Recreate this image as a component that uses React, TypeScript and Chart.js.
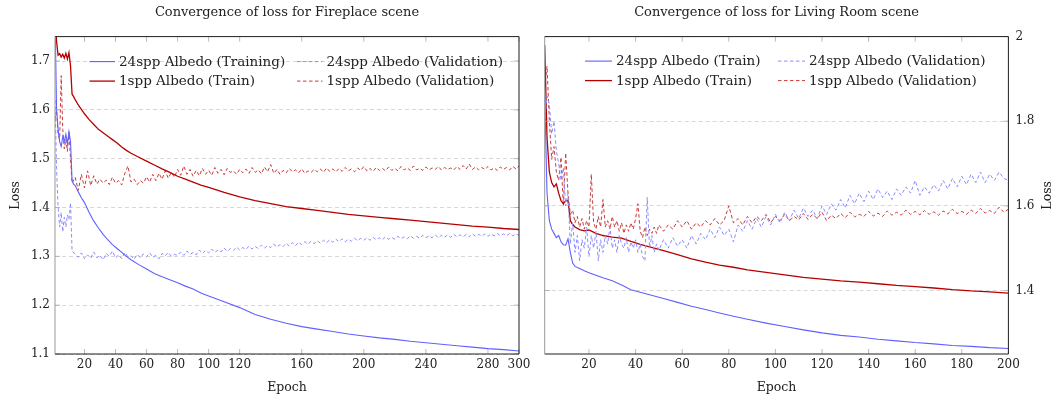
import React, { useEffect, useRef } from 'react';
import { Chart, registerables } from 'chart.js';
Chart.register(...registerables);

const FONT = "'DejaVu Serif', serif";
const TEXT = '#222222';

// ---------------- Fireplace scene ----------------
const fpTitle = 'Convergence of loss for Fireplace scene';
const fpXTicks = [20, 40, 60, 80, 100, 120, 160, 200, 240, 280, 300];
const fpYTicks = [1.1, 1.2, 1.3, 1.4, 1.5, 1.6, 1.7];
const fpLabels = ['24spp Albedo (Training)', '24spp Albedo (Validation)', '1spp Albedo (Train)', '1spp Albedo (Validation)'];

const fpTrainEpochs = [1, 2, 3, 4, 5, 6, 7, 8, 9, 10, 11, 12, 13, 14, 16, 18, 20, 23, 26, 29, 32, 35, 38, 41, 44, 47, 50,
  55, 60, 65, 70, 75, 80, 85, 90, 95, 100, 110, 120, 130, 140, 150, 160, 170, 180, 190, 200, 210, 220, 230, 240, 250,
  260, 270, 280, 290, 300];
const fp24Train = [1.80, 1.60, 1.56, 1.535, 1.525, 1.545, 1.535, 1.55, 1.53, 1.555, 1.535, 1.455, 1.448, 1.445,
  1.432, 1.420, 1.410,
  1.390, 1.372, 1.358, 1.345, 1.334, 1.324, 1.316, 1.308, 1.300, 1.293,
  1.283, 1.274, 1.265, 1.258, 1.252, 1.246, 1.239, 1.233, 1.225, 1.219,
  1.207, 1.195, 1.181, 1.171, 1.163, 1.156, 1.151, 1.146, 1.141, 1.137, 1.133, 1.130, 1.126, 1.123, 1.120, 1.117,
  1.114, 1.111, 1.109, 1.106];
const fp1Train = [1.80, 1.74, 1.712, 1.715, 1.708, 1.714, 1.706, 1.716, 1.704, 1.717, 1.69, 1.632, 1.627, 1.621,
  1.610, 1.601, 1.592,
  1.580, 1.570, 1.560, 1.553, 1.546, 1.539, 1.532, 1.524, 1.517, 1.511,
  1.503, 1.495, 1.487, 1.479, 1.472, 1.464, 1.458, 1.452, 1.446, 1.441,
  1.431, 1.422, 1.414, 1.408, 1.402, 1.398, 1.394, 1.390, 1.386, 1.383, 1.380, 1.377, 1.374, 1.371, 1.368, 1.365,
  1.362, 1.360, 1.357, 1.355];

const range = (a: number, b: number, s = 1) => { const r: number[] = []; for (let v = a; v <= b; v += s) r.push(v); return r; };
const fpValEpochs = range(1, 12).concat(range(14, 300, 2));
const fp24Val = [1.62, 1.48, 1.40, 1.36, 1.39, 1.35, 1.38, 1.36, 1.385, 1.375, 1.41, 1.31,
  1.305, 1.298, 1.307, 1.295, 1.303, 1.296, 1.309, 1.297, 1.302, 1.293, 1.306, 1.300, 1.311, 1.297, 1.303, 1.295, 1.308,
  1.299, 1.301, 1.294, 1.304, 1.297, 1.305, 1.299, 1.307, 1.298, 1.302, 1.295, 1.306, 1.301, 1.308, 1.300, 1.304, 1.302,
  1.309, 1.302, 1.311, 1.304, 1.308, 1.303, 1.313, 1.306, 1.312, 1.307, 1.315, 1.308, 1.313, 1.309, 1.317, 1.310, 1.316,
  1.312, 1.319, 1.313, 1.318, 1.314, 1.321, 1.315, 1.320, 1.316, 1.323, 1.317, 1.322, 1.318, 1.325, 1.319, 1.324, 1.320, 1.327,
  1.321, 1.328, 1.322, 1.329, 1.324, 1.330, 1.325, 1.331, 1.326, 1.332, 1.327, 1.333, 1.328, 1.334, 1.329, 1.335, 1.330,
  1.336, 1.330, 1.335, 1.331, 1.337, 1.332, 1.337, 1.333, 1.338, 1.333, 1.339, 1.334, 1.338, 1.334, 1.340, 1.335, 1.339, 1.335,
  1.341, 1.336, 1.340, 1.336, 1.342, 1.337, 1.341, 1.337, 1.343, 1.338, 1.342, 1.338, 1.344, 1.338, 1.343, 1.339, 1.344,
  1.339, 1.345, 1.340, 1.344, 1.340, 1.345, 1.340, 1.346, 1.341, 1.345, 1.341, 1.346, 1.341, 1.346, 1.342, 1.347, 1.342,
  1.346, 1.342, 1.347, 1.342, 1.346, 1.343];
const fp1Val = [1.58, 1.60, 1.55, 1.54, 1.67, 1.56, 1.52, 1.54, 1.515, 1.555, 1.50, 1.45,
  1.462, 1.435, 1.468, 1.440, 1.475, 1.445, 1.465, 1.448, 1.458, 1.450, 1.456, 1.447, 1.462, 1.450, 1.455, 1.446, 1.470,
  1.485, 1.452, 1.458, 1.447, 1.455, 1.450, 1.463, 1.452, 1.468, 1.455, 1.470, 1.458, 1.475, 1.460, 1.472, 1.462, 1.478,
  1.466, 1.485, 1.468, 1.478, 1.464, 1.476, 1.465, 1.480, 1.468, 1.476, 1.466, 1.482, 1.470, 1.478, 1.467, 1.480, 1.472,
  1.475, 1.468, 1.478, 1.471, 1.479, 1.470, 1.482, 1.472, 1.477, 1.469, 1.483, 1.473, 1.488, 1.470, 1.478, 1.468, 1.476, 1.471,
  1.480, 1.473, 1.477, 1.471, 1.479, 1.470, 1.475, 1.472, 1.478, 1.473, 1.479, 1.472, 1.481, 1.474, 1.479, 1.473, 1.480,
  1.474, 1.482, 1.475, 1.479, 1.473, 1.481, 1.476, 1.484, 1.475, 1.480, 1.474, 1.482, 1.476, 1.480, 1.475, 1.483, 1.476, 1.480,
  1.475, 1.484, 1.477, 1.481, 1.476, 1.485, 1.477, 1.480, 1.476, 1.483, 1.477, 1.481, 1.478, 1.484, 1.477, 1.482, 1.478,
  1.481, 1.477, 1.484, 1.478, 1.486, 1.479, 1.489, 1.478, 1.483, 1.477, 1.482, 1.478, 1.484, 1.477, 1.481, 1.476, 1.483,
  1.478, 1.482, 1.477, 1.484, 1.479, 1.485];

// ---------------- Living Room scene ----------------
const lrTitle = 'Convergence of loss for Living Room scene';
const lrXTicks = [20, 40, 60, 80, 100, 120, 140, 160, 180, 200];
const lrYTicks = [1.4, 1.6, 1.8, 2.0];
const lrYTickLabels = ['1.4', '1.6', '1.8', '2'];
const lrLabels = ['24spp Albedo (Train)', '24spp Albedo (Validation)', '1spp Albedo (Train)', '1spp Albedo (Validation)'];

const lrTrainEpochs = [1, 2, 3, 4, 5, 6, 7, 8, 9, 10, 11, 12, 13, 14, 16, 18, 20, 23, 26, 30, 34, 38, 42, 46,
  52, 58, 64, 70, 76, 82, 88, 96, 104, 112, 120, 128, 136, 144, 152, 160, 168, 176, 184, 192, 200];
const lr24Train = [1.86, 1.63, 1.565, 1.545, 1.535, 1.525, 1.53, 1.515, 1.508, 1.507, 1.522, 1.49, 1.465, 1.457,
  1.452, 1.447, 1.442, 1.436, 1.430, 1.423, 1.413, 1.402, 1.396, 1.390,
  1.381, 1.372, 1.363, 1.355, 1.347, 1.339, 1.332,
  1.323, 1.315, 1.307, 1.300, 1.294, 1.290, 1.285, 1.281, 1.277, 1.274, 1.270, 1.268, 1.265, 1.263];
const lr1Train = [1.98, 1.76, 1.68, 1.655, 1.645, 1.652, 1.63, 1.612, 1.605, 1.612, 1.613, 1.565, 1.556, 1.550,
  1.544, 1.541, 1.543, 1.535, 1.530, 1.526, 1.524, 1.516, 1.509, 1.503,
  1.494, 1.485, 1.475, 1.467, 1.460, 1.455, 1.449,
  1.443, 1.437, 1.431, 1.427, 1.423, 1.420, 1.416, 1.412, 1.409, 1.406, 1.402, 1.399, 1.397, 1.394];

const lrValEpochs = range(1, 50).concat(range(52, 200, 2));
const lr24Val = [1.80, 1.86, 1.84, 1.77, 1.80, 1.73, 1.70, 1.66, 1.69, 1.60, 1.63, 1.51, 1.56, 1.49, 1.53,
  1.47, 1.52, 1.50, 1.55, 1.48, 1.53, 1.50, 1.54, 1.47, 1.52, 1.49, 1.53, 1.51, 1.55, 1.50,
  1.52, 1.49, 1.53, 1.51, 1.50, 1.525, 1.49, 1.515, 1.50, 1.52, 1.49, 1.51, 1.48, 1.47, 1.62,
  1.50, 1.53, 1.49, 1.51, 1.495,
  1.52, 1.50, 1.525, 1.505, 1.52, 1.50, 1.53, 1.51, 1.535, 1.52,
  1.545, 1.525, 1.55, 1.53, 1.545, 1.515, 1.555, 1.54, 1.565, 1.545,
  1.57, 1.55, 1.575, 1.555, 1.58, 1.56, 1.585, 1.565, 1.59, 1.57,
  1.595, 1.575, 1.59, 1.57, 1.60, 1.58, 1.605, 1.59, 1.615, 1.595,
  1.625, 1.605, 1.63, 1.61, 1.635, 1.615, 1.64, 1.62, 1.635, 1.615,
  1.64, 1.625, 1.645, 1.63, 1.66, 1.625, 1.645, 1.63, 1.65, 1.635,
  1.66, 1.64, 1.665, 1.645, 1.67, 1.65, 1.675, 1.655, 1.68, 1.655,
  1.675, 1.66, 1.68, 1.665, 1.66];
const lr1Val = [1.88, 1.93, 1.80, 1.71, 1.74, 1.68, 1.66, 1.715, 1.60, 1.725, 1.63, 1.58, 1.59, 1.56, 1.575,
  1.55, 1.57, 1.545, 1.565, 1.55, 1.675, 1.56, 1.545, 1.575, 1.55, 1.615, 1.55, 1.565, 1.545, 1.575,
  1.55, 1.565, 1.54, 1.56, 1.535, 1.555, 1.54, 1.56, 1.545, 1.57, 1.605, 1.54, 1.525, 1.55, 1.53,
  1.545, 1.535, 1.55, 1.535, 1.555,
  1.54, 1.555, 1.545, 1.565, 1.55, 1.565, 1.545, 1.56, 1.55, 1.565,
  1.555, 1.57, 1.555, 1.565, 1.60, 1.56, 1.57, 1.555, 1.575, 1.56,
  1.575, 1.565, 1.58, 1.56, 1.575, 1.565, 1.58, 1.565, 1.575, 1.567,
  1.582, 1.568, 1.58, 1.57, 1.585, 1.565, 1.578, 1.57, 1.582, 1.572,
  1.585, 1.574, 1.58, 1.575, 1.587, 1.576, 1.583, 1.575, 1.588, 1.578,
  1.585, 1.578, 1.59, 1.58, 1.587, 1.579, 1.589, 1.58, 1.586, 1.578,
  1.588, 1.581, 1.592, 1.582, 1.587, 1.58, 1.59, 1.582, 1.594, 1.583,
  1.589, 1.582, 1.597, 1.585, 1.592];

// ---------------- styles ----------------
const BLUE = 'rgb(96,96,255)';
const BLUE_L = 'rgb(140,140,255)';
const RED = 'rgb(182,0,0)';
const RED_L = 'rgb(200,60,60)';
const VAL_DASH = [3.5, 2.5];

const pts = (xs: number[], ys: number[]) => xs.map((x, i) => ({ x, y: ys[i] }));

const pgfPlugin = {
  id: 'pgf',
  afterDatasetsDraw(chart: any, _args: any, opts: any) {
    const { ctx, chartArea: a } = chart;
    const xs = chart.scales.x;
    const ys = chart.scales.y;
    ctx.save();
    ctx.setLineDash([]);
    // inward tick marks
    ctx.lineWidth = 0.8;
    ctx.strokeStyle = '#a8a8a8';
    const tl = 5;
    ctx.beginPath();
    xs.ticks.forEach((t: any) => {
      const p = xs.getPixelForValue(t.value);
      ctx.moveTo(p, a.bottom); ctx.lineTo(p, a.bottom - tl);
      ctx.moveTo(p, a.top); ctx.lineTo(p, a.top + tl);
    });
    ys.ticks.forEach((t: any) => {
      const p = ys.getPixelForValue(t.value);
      ctx.moveTo(a.left, p); ctx.lineTo(a.left + tl, p);
      ctx.moveTo(a.right, p); ctx.lineTo(a.right - tl, p);
    });
    ctx.stroke();
    // frame
    ctx.lineWidth = 1;
    ctx.strokeStyle = '#1e1e1e';
    ctx.beginPath();
    ctx.moveTo(a.left, a.top); ctx.lineTo(a.right, a.top); ctx.lineTo(a.right, a.bottom); ctx.lineTo(a.left, a.bottom);
    ctx.stroke();
    ctx.strokeStyle = '#999999';
    ctx.beginPath(); ctx.moveTo(a.left, a.top); ctx.lineTo(a.left, a.bottom); ctx.stroke();

    // legend (two columns, two rows)
    const ds = chart.data.datasets;
    ctx.font = `${opts.legendSize}px ${FONT}`;
    ctx.textBaseline = 'middle';
    ctx.textAlign = 'left';
    ds.forEach((d: any, i: number) => {
      const col = i % 2;
      const row = Math.floor(i / 2);
      const x0 = a.left + opts.legendCols[col];
      const y0 = a.top + opts.legendRows[row];
      ctx.strokeStyle = d.borderColor;
      ctx.lineWidth = d.borderWidth;
      ctx.setLineDash(d.borderDash || []);
      ctx.beginPath(); ctx.moveTo(x0, y0); ctx.lineTo(x0 + opts.sampleLen, y0); ctx.stroke();
      ctx.setLineDash([]);
      ctx.fillStyle = TEXT;
      ctx.fillText(d.label, x0 + opts.sampleLen + opts.textGap, y0 + 0.5);
    });

    // rotated axis label on the right side
    if (opts.sideLabel) {
      ctx.save();
      ctx.font = `${opts.sideSize}px ${FONT}`;
      ctx.fillStyle = TEXT;
      ctx.textAlign = 'center';
      ctx.textBaseline = 'middle';
      ctx.translate(ys.right - opts.sideInset, (a.top + a.bottom) / 2);
      ctx.rotate(-Math.PI / 2);
      ctx.fillText(opts.sideLabel, 0, 0);
      ctx.restore();
    }
    ctx.restore();
  },
};

function makeConfig(p: any): any {
  const tickFont = { family: FONT, size: 12 };
  const titleFont = { family: FONT, size: 12.5 };
  return {
    type: 'line',
    data: {
      datasets: [
        { label: p.labels[0], data: pts(p.trainX, p.t24), borderColor: BLUE, borderWidth: 1.1 },
        { label: p.labels[1], data: pts(p.valX, p.v24), borderColor: BLUE_L, borderWidth: 1, borderDash: VAL_DASH },
        { label: p.labels[2], data: pts(p.trainX, p.t1), borderColor: RED, borderWidth: 1.3 },
        { label: p.labels[3], data: pts(p.valX, p.v1), borderColor: RED_L, borderWidth: 1, borderDash: VAL_DASH },
      ].map((d) => ({ ...d, pointRadius: 0, fill: false, tension: 0 })),
    },
    plugins: [pgfPlugin],
    options: {
      responsive: false,
      maintainAspectRatio: false,
      animation: false,
      events: [],
      devicePixelRatio: 1,
      layout: { padding: p.padding },
      plugins: {
        legend: { display: false },
        tooltip: { enabled: false },
        title: {
          display: true, text: p.title, fullSize: false, color: TEXT,
          font: { family: FONT, size: 13, weight: 'normal' }, padding: { top: 5, bottom: 16 },
        },
        pgf: p.pgf,
      },
      scales: {
        x: {
          type: 'linear', min: p.xMin, max: p.xMax,
          afterBuildTicks: (s: any) => { s.ticks = p.xTicks.map((v: number) => ({ value: v })); },
          afterFit: (s: any) => { s.height = 44; s.paddingLeft = 0; s.paddingRight = 0; },
          grid: { display: false, drawTicks: false },
          border: { display: false },
          ticks: { font: tickFont, color: TEXT, padding: 4, maxRotation: 0, autoSkip: false, callback: (v: any) => String(v) },
          title: { display: true, text: 'Epoch', font: titleFont, color: TEXT, padding: { top: 0, bottom: 2.5 } },
        },
        y: {
          type: 'linear', position: p.yPos, min: p.yMin, max: p.yMax,
          afterBuildTicks: (s: any) => { s.ticks = p.yTicks.map((v: number) => ({ value: v })); },
          afterFit: (s: any) => { s.width = p.yWidth; s.paddingTop = 0; s.paddingBottom = 0; },
          grid: { color: '#cdcdcd', lineWidth: 0.8, drawTicks: false },
          border: { display: false, dash: [4, 3] },
          ticks: { font: tickFont, color: TEXT, padding: p.yPad, autoSkip: false, callback: p.yFmt },
          title: p.yTitle,
        },
      },
    },
  };
}

const fireplaceConfig = () => makeConfig({
  title: fpTitle, labels: fpLabels,
  trainX: fpTrainEpochs, valX: fpValEpochs, t24: fp24Train, v24: fp24Val, t1: fp1Train, v1: fp1Val,
  xMin: 1, xMax: 300, xTicks: fpXTicks, yMin: 1.1, yMax: 1.75, yTicks: fpYTicks,
  yPos: 'left', yWidth: 55, yPad: 5,
  yFmt: (v: any) => Number(v).toFixed(1),
  yTitle: { display: true, text: 'Loss', font: { family: FONT, size: 12.5 }, color: TEXT, padding: { top: 8, bottom: 0 } },
  padding: { left: 0, right: 11, top: 0, bottom: 0 },
  pgf: { legendCols: [34.5, 242], legendRows: [25, 44.5], sampleLen: 25.5, textGap: 4, legendSize: 13.5 },
});

const livingConfig = () => makeConfig({
  title: lrTitle, labels: lrLabels,
  trainX: lrTrainEpochs, valX: lrValEpochs, t24: lr24Train, v24: lr24Val, t1: lr1Train, v1: lr1Val,
  xMin: 1, xMax: 200, xTicks: lrXTicks, yMin: 1.25, yMax: 2.0, yTicks: lrYTicks,
  yPos: 'right', yWidth: 46.6, yPad: 7,
  yFmt: (_v: any, i: number) => lrYTickLabels[i],
  yTitle: { display: false },
  padding: { left: 14.7, right: 0, top: 0, bottom: 0 },
  pgf: { legendCols: [40.3, 233.3], legendRows: [24.5, 44], sampleLen: 27, textGap: 4, legendSize: 13.5,
    sideLabel: 'Loss', sideInset: 7, sideSize: 12.5 },
});

function Panel({ make, left, width }: { make: () => any; left: number; width: number }) {
  const ref = useRef<HTMLCanvasElement>(null);
  useEffect(() => {
    const chart = new Chart(ref.current as HTMLCanvasElement, make());
    return () => chart.destroy();
  }, []);
  return (
    <canvas ref={ref} width={width} height={398}
      style={{ position: 'absolute', left, top: 0, width, height: 398, display: 'block' }} />
  );
}

export default function App() {
  return (
    <div style={{ position: 'fixed', left: 0, top: 0, width: 1055, height: 398, background: '#ffffff', overflow: 'hidden' }}>
      <Panel make={fireplaceConfig} left={0} width={530} />
      <Panel make={livingConfig} left={530} width={525} />
    </div>
  );
}
